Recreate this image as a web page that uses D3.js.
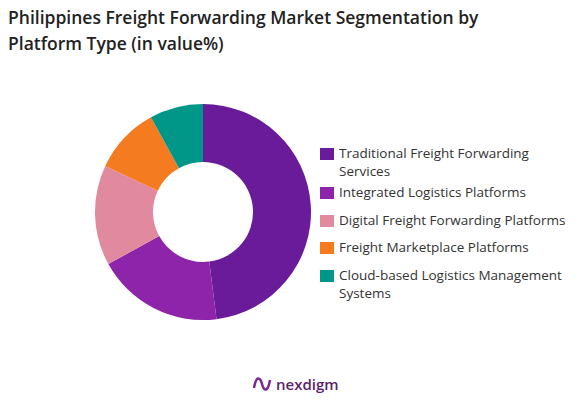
<!DOCTYPE html>
<html><head><meta charset="utf-8">
<script src="https://cdn.jsdelivr.net/npm/d3@7"></script>
<style>body{margin:0;background:#fff;font-family:"Open Sans",sans-serif}</style>
</head><body><svg id="c" width="581" height="405"></svg>
<script>
const categories = ["Traditional Freight Forwarding Services", "Integrated Logistics Platforms", "Digital Freight Forwarding Platforms", "Freight Marketplace Platforms", "Cloud-based Logistics Management Systems"];
const legendLines = [["Traditional Freight Forwarding", "Services"], ["Integrated Logistics Platforms"], ["Digital Freight Forwarding Platforms"], ["Freight Marketplace Platforms"], ["Cloud-based Logistics Management", "Systems"]];
const values = [48, 19, 15, 10, 8];
const colors = ["#6a1b9a", "#8e24aa", "#e0899f", "#f47b20", "#009688"];

const svg = d3.select("#c");
svg.append("text").attr("x", 8).attr("y", 24).attr("font-size", 17.5).attr("font-weight", 600).attr("fill", "#222")
  .text("Philippines Freight Forwarding Market Segmentation by");
svg.append("text").attr("x", 8).attr("y", 50).attr("font-size", 17.5).attr("font-weight", 600).attr("fill", "#222")
  .text("Platform Type (in value%)");

const pie = d3.pie().sort(null)(values);
const arc = d3.arc().innerRadius(50).outerRadius(108);
svg.append("g").attr("transform", "translate(203,212)")
  .selectAll("path").data(pie).enter().append("path")
  .attr("d", arc).attr("fill", (d, i) => colors[i]);

const lg = svg.append("g").attr("transform", "translate(320,146)");
const ys = [0, 39, 67, 94, 122];
legendLines.forEach((lines, i) => {
  const g = lg.append("g").attr("transform", `translate(0,${ys[i]})`);
  g.append("rect").attr("x", 0).attr("y", 2).attr("width", 14).attr("height", 12).attr("fill", colors[i]);
  lines.forEach((t, j) => g.append("text").attr("x", 19).attr("y", 12 + j * 18).attr("font-size", 13.5).attr("fill", "#333").text(t));
});

const logo = svg.append("g").attr("transform", "translate(252,380)");
logo.append("path").attr("d", "M2,8 C4,-4 8,-4 10,4 C12,12 16,12 18,0").attr("fill", "none").attr("stroke", "#7b2a8f").attr("stroke-width", 2.5);
logo.append("text").attr("x", 24).attr("y", 10).attr("font-size", 15).attr("font-weight", 600).attr("fill", "#5b1f6b").text("nexdigm");
</script></body></html>
